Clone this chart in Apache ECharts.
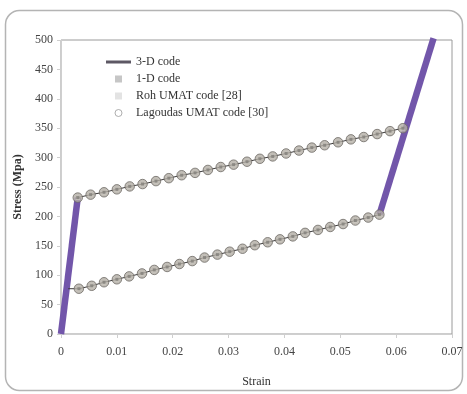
<!DOCTYPE html>
<html><head><meta charset="utf-8">
<script src="https://cdn.jsdelivr.net/npm/echarts@6/dist/echarts.min.js"></script>
<style>html,body{margin:0;padding:0;background:#fff}#c{width:467px;height:394px}</style>
</head><body><div id="c"></div>
<script>
// Tick labels
var xTickLabels = ['0','0.01','0.02','0.03','0.04','0.05','0.06','0.07'];
var yTickLabels = ['0','50','100','150','200','250','300','350','400','450','500'];

// 3-D code (thick purple elastic branches)
var strain3D_a = [0, 0.0030];
var stress3D_a = [0, 232];
var strain3D_b = [0.0570, 0.0667];
var stress3D_b = [203, 503];

// Upper (loading) plateau points
var strainUp = [0.0030,0.0053,0.0077,0.0100,0.0123,0.0146,0.0170,0.0193,0.0216,0.0240,0.0263,0.0286,0.0309,0.0333,0.0356,0.0379,0.0403,0.0426,0.0449,0.0472,0.0496,0.0519,0.0542,0.0566,0.0589,0.0612];
var stressUp = [232,237,241,246,251,255,260,265,270,274,279,284,288,293,298,302,307,312,317,321,326,331,335,340,345,350];

// Lower (unloading) plateau points
var strainLow = [0.0032,0.0055,0.0077,0.0100,0.0122,0.0145,0.0167,0.0190,0.0212,0.0235,0.0257,0.0280,0.0302,0.0325,0.0347,0.0370,0.0392,0.0415,0.0437,0.0460,0.0482,0.0505,0.0527,0.0550,0.0570];
var stressLow = [77,82,88,93,98,103,109,114,119,124,130,135,140,145,151,156,161,166,172,177,182,187,193,198,203];

function pairs(xs, ys){ return xs.map(function(x,i){ return [x, ys[i]]; }); }
var upPts = pairs(strainUp, stressUp);
var lowPts = pairs(strainLow, stressLow);
var lowLine = [[0.0013, 77]].concat(lowPts);

var serif = 'Liberation Serif';
var chart = echarts.init(document.getElementById('c'));
chart.setOption({
  animation: false,
  backgroundColor: '#fff',
  graphic: [{
    type: 'rect', z: -10,
    shape: {x: 5.5, y: 10.5, width: 457, height: 380, r: 14},
    style: {fill: 'none', stroke: '#b4b4b4', lineWidth: 1.5}
  }],
  grid: {left: 61, right: 15, top: 40, bottom: 60, show: true, borderColor: '#9a9a9a', borderWidth: 1},
  legend: {
    orient: 'vertical', left: 101, top: 51, itemWidth: 25, itemHeight: 7, itemGap: 5,
    textStyle: {fontFamily: serif, fontSize: 12, color: '#333'},
    data: [
      {name: '3-D code', icon: 'path://M0,0h25v3h-25z', itemStyle: {color: '#5d5864'}},
      {name: '1-D code', icon: 'path://M0,0h5v5h-5z', itemStyle: {color: '#b8b8b8', borderWidth: 0}},
      {name: 'Roh UMAT code [28]', icon: 'path://M0,0h5v5h-5z', itemStyle: {color: '#dcdcdc', borderWidth: 0}},
      {name: 'Lagoudas UMAT code [30]', icon: 'circle', itemStyle: {color: '#fff', borderColor: '#9a9a9a', borderWidth: 1}}
    ]
  },
  xAxis: {
    type: 'value', min: 0, max: 0.07, interval: 0.01,
    name: 'Strain', nameLocation: 'middle', nameGap: 42,
    nameTextStyle: {fontFamily: serif, fontSize: 12, color: '#333'},
    axisLine: {lineStyle: {color: '#cfcfcf'}},
    axisTick: {show: true, length: 4, lineStyle: {color: '#cfcfcf'}},
    splitLine: {show: false},
    axisLabel: {margin: 12, fontFamily: serif, fontSize: 12, color: '#444',
      formatter: function(v){ return xTickLabels[Math.round(v*100)]; }}
  },
  yAxis: {
    type: 'value', min: 0, max: 500, interval: 50,
    name: 'Stress (Mpa)', nameLocation: 'middle', nameGap: 31,
    nameTextStyle: {fontFamily: serif, fontSize: 12, fontWeight: 'bold', color: '#333'},
    axisLine: {show: true, lineStyle: {color: '#cfcfcf'}},
    axisTick: {show: true, length: 4, lineStyle: {color: '#cfcfcf'}},
    splitLine: {show: false},
    axisLabel: {margin: 8, fontFamily: serif, fontSize: 12, color: '#444',
      formatter: function(v){ return yTickLabels[Math.round(v/50)]; }}
  },
  series: [
    {name: '3-D code', type: 'line', symbol: 'none', clip: false,
     lineStyle: {color: '#7256aa', width: 6.5}, data: pairs(strain3D_a, stress3D_a), z: 2},
    {name: '3-D code', type: 'line', symbol: 'none', clip: false,
     lineStyle: {color: '#7256aa', width: 6.5}, data: pairs(strain3D_b, stress3D_b), z: 2},
    {name: 'path', type: 'line', symbol: 'none', lineStyle: {color: '#3a3838', width: 1}, data: upPts, z: 3},
    {name: 'path', type: 'line', symbol: 'none', lineStyle: {color: '#3a3838', width: 1}, data: lowLine, z: 3},
    {name: 'Lagoudas UMAT code [30]', type: 'scatter', symbol: 'circle', symbolSize: 9.5,
     itemStyle: {color: '#b3aea5', borderColor: '#6e6a65', borderWidth: 1}, data: upPts.concat(lowPts), z: 4},
    {name: 'Roh UMAT code [28]', type: 'scatter', symbol: 'triangle', symbolSize: 5,
     itemStyle: {color: '#cbc7bf'}, data: upPts.concat(lowPts), z: 5},
    {name: '1-D code', type: 'scatter', symbol: 'rect', symbolSize: 3,
     itemStyle: {color: '#7d7a76'}, data: upPts.concat(lowPts), z: 6}
  ]
});
</script></body></html>
